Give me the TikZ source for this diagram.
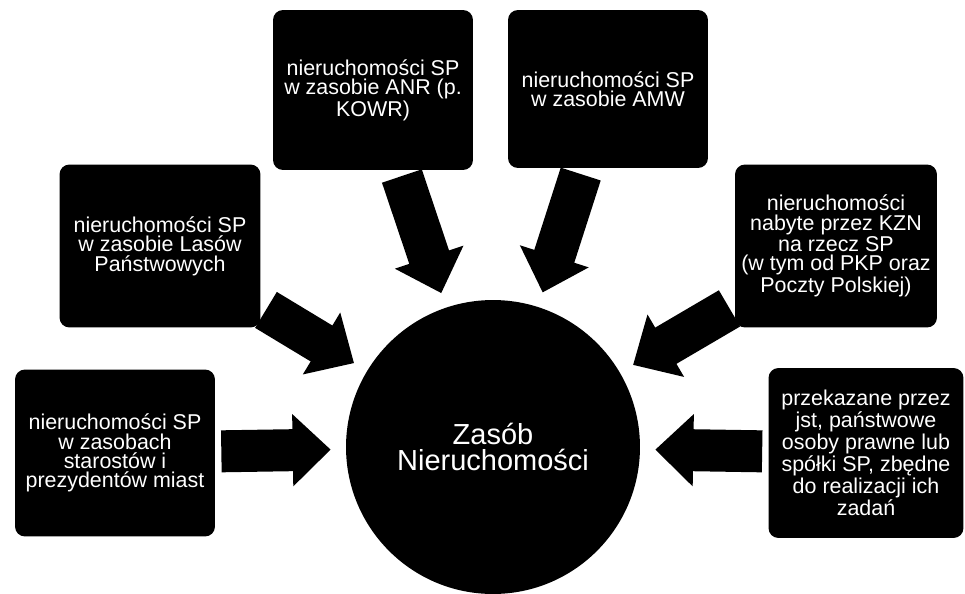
\documentclass[tikz,border=0pt]{standalone}
\usepackage{fontspec}
\setmainfont{Liberation Sans}
\usetikzlibrary{arrows.meta,positioning}

\begin{document}
\begin{tikzpicture}[x=0.02cm, y=-0.02cm,
  zrodlo/.style={fill=black, text=white, rounded corners=0.2cm, align=center,
    minimum width=4cm, minimum height=3.2cm, inner sep=1pt,
    font=\fontsize{12.2}{11}\selectfont},
  srodek/.style={circle, fill=black, text=white, minimum size=5.88cm, align=center,
    font=\fontsize{16.5}{15}\selectfont},
  wplyw/.style={line width=0.84cm, -{Triangle[length=0.76cm, width=1.4cm]},
    shorten <=0.12cm, shorten >=0.3cm}]
\useasboundingbox (0,0) rectangle (965,593);

\node[srodek] (zasob) at (493,447) {Zasób\\Nieruchomości};

\node[zrodlo] (anr) at (373,90) {nieruchomości SP\\w zasobie ANR (p.\\KOWR)};
\node[zrodlo, minimum height=3.16cm] (amw) at (608,89) {nieruchomości SP\\w zasobie AMW};
\node[zrodlo, minimum width=4.02cm, minimum height=3.26cm] (lasy) at (160,246)
  {nieruchomości SP\\w zasobie Lasów\\Państwowych};
\node[zrodlo, minimum width=4.04cm, minimum height=3.26cm] (kzn) at (836,246)
  {nieruchomości\\nabyte przez KZN\\na rzecz SP\\(w tym od PKP oraz\\Poczty Polskiej)};
\node[zrodlo, minimum height=3.34cm] (starosty) at (115,453)
  {nieruchomości SP\\w zasobach\\starostów i\\prezydentów miast};
\node[zrodlo, minimum width=3.9cm, minimum height=3.4cm] (jst) at (866,453)
  {przekazane przez\\jst, państwowe\\osoby prawne lub\\spółki SP, zbędne\\do realizacji ich\\zadań};

% strzalki do zasobu
\foreach \z in {anr,amw,lasy,kzn,starosty,jst}
  \draw[wplyw] (\z) -- (zasob);
\end{tikzpicture}
\end{document}
